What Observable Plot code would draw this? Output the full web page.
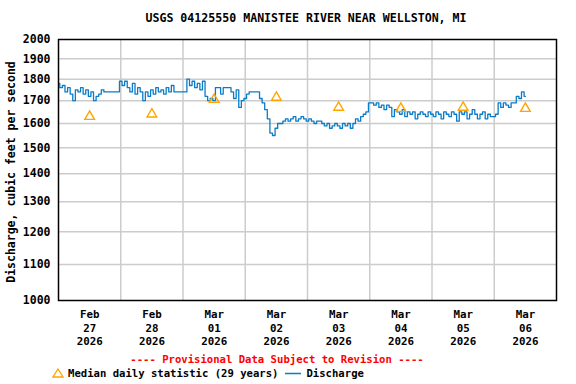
<!DOCTYPE html>
<html>
<head>
<meta charset="utf-8">
<script src="https://cdn.jsdelivr.net/npm/d3@7"></script>
<script src="https://cdn.jsdelivr.net/npm/@observablehq/plot@0.6"></script>
<style>
  html, body { margin: 0; padding: 0; background: #fff; }
  #wrap { position: relative; width: 576px; height: 384px; font-family: "DejaVu Sans Mono", monospace; font-weight: bold; }
  #wrap svg { position: absolute; left: 0; top: 0; }
  .ov { position: absolute; white-space: nowrap; line-height: 1; }
</style>
</head>
<body>
<div id="wrap">
  <div class="ov" id="title" style="left:306px; top:19px; transform:translate(-50%,-50%); font-size:11.6px;">USGS 04125550 MANISTEE RIVER NEAR WELLSTON, MI</div>
  <div class="ov" id="ylabel" style="left:12px; top:172px; transform:translate(-50%,-50%) rotate(-90deg); font-size:11.5px;">Discharge, cubic feet per second</div>
  <div class="ov" id="prov" style="left:277px; top:359px; transform:translate(-50%,-50%); font-size:10.6px; color:#ff0000;">---- Provisional Data Subject to Revision ----</div>
  <div class="ov" id="legend" style="left:52px; top:373px; transform:translate(0,-50%); font-size:10.6px; display:flex; align-items:center;">
    <svg width="12" height="11" style="position:static"><path d="M6,1.5 L11,9.5 L1,9.5 Z" fill="none" stroke="#ffa500" stroke-width="1.3"/></svg>
    <span style="margin-left:4px;">Median daily statistic (29 years)</span>
    <svg width="18" height="6" style="position:static; margin-left:6px;"><line x1="1" y1="3" x2="17" y2="3" stroke="#0a7cc8" stroke-width="1.3"/></svg>
    <span style="margin-left:4px;">Discharge</span>
  </div>
</div>
<script>
// Hourly discharge (cfs), starting 2026-02-27 00:00
const dischargeStart = Date.UTC(2026, 1, 27, 0);
const dischargeFeb27 = [1780,1760,1770,1740,1760,1730,1700,1750,1740,1760,1730,1750,1720,1740,1700,1720,1730,1750,1740,1740,1740,1740,1740,1740];
const dischargeFeb28 = [1790,1770,1790,1760,1740,1780,1730,1760,1740,1700,1740,1720,1750,1730,1760,1740,1750,1730,1760,1740,1770,1740,1740,1740];
const dischargeMar01 = [1740,1740,1800,1770,1790,1760,1780,1750,1790,1720,1700,1710,1700,1760,1760,1730,1760,1760,1760,1740,1710,1750,1670,1700];
const dischargeMar02 = [1710,1730,1740,1740,1740,1740,1710,1690,1660,1620,1560,1550,1580,1600,1600,1610,1620,1610,1620,1630,1610,1620,1630,1620];
const dischargeMar03 = [1610,1620,1610,1600,1610,1610,1600,1590,1600,1580,1590,1600,1590,1580,1600,1590,1600,1580,1600,1620,1610,1630,1640,1650];
const dischargeMar04 = [1690,1690,1680,1690,1670,1680,1660,1680,1670,1630,1660,1650,1640,1660,1630,1650,1640,1650,1620,1640,1650,1640,1630,1650];
const dischargeMar05 = [1640,1630,1650,1640,1620,1650,1640,1630,1650,1640,1610,1650,1640,1650,1620,1640,1660,1640,1620,1640,1650,1620,1640,1630];
const dischargeMar06 = [1630,1640,1690,1670,1690,1680,1670,1690,1690,1720,1710,1740,1720];
const discharge = [].concat(dischargeFeb27, dischargeFeb28, dischargeMar01, dischargeMar02,
  dischargeMar03, dischargeMar04, dischargeMar05, dischargeMar06);

// Median daily statistic (29 years), at noon of each day
const medianDays = ["2026-02-27","2026-02-28","2026-03-01","2026-03-02","2026-03-03","2026-03-04","2026-03-05","2026-03-06"];
const medianValues = [1630, 1640, 1705, 1715, 1670, 1665, 1670, 1665];

// Axis labels
const dayMonths = ["Feb","Feb","Mar","Mar","Mar","Mar","Mar","Mar"];
const dayNumbers = ["27","28","01","02","03","04","05","06"];
const yTicks = [1000,1100,1200,1300,1400,1500,1600,1700,1800,1900,2000];

const xStart = new Date(Date.UTC(2026, 1, 27));
const xEnd = new Date(Date.UTC(2026, 2, 7));

const data = discharge.map((v, i) => ({date: new Date(dischargeStart + i * 3600e3), value: v}));
const medians = medianDays.map((d, i) => ({date: new Date(d + "T12:00:00Z"), value: medianValues[i]}));
const dayLabels = medianDays.map((d, i) => ({date: new Date(d + "T12:00:00Z"), text: dayMonths[i] + "\n" + dayNumbers[i] + "\n" + d.slice(0, 4)}));
const midnights = medianDays.slice(1).map(d => new Date(d + "T00:00:00Z"));

const chart = Plot.plot({
  width: 576,
  height: 384,
  marginTop: 39,
  marginBottom: 84,
  marginLeft: 58,
  marginRight: 20,
  style: {fontFamily: '"DejaVu Sans Mono", monospace', fontWeight: "bold", fontSize: "11.5px", color: "black", background: "transparent"},
  x: {type: "utc", domain: [xStart, xEnd], axis: null},
  y: {type: "log", domain: [1000, 2000], axis: null},
  marks: [
    Plot.ruleY(yTicks.slice(1, -1), {stroke: "#cccccc", strokeWidth: 1.5}),
    Plot.ruleX(midnights, {stroke: "#cccccc", strokeWidth: 1.5}),
    Plot.line(data, {x: "date", y: "value", stroke: "#0a7cc8", strokeWidth: 1.3, curve: "step"}),
    Plot.dot(medians, {x: "date", y: "value", symbol: "triangle", r: 3.6, stroke: "#ffa500", strokeWidth: 1.4, fill: "none"}),
    Plot.axisY({ticks: yTicks, tickFormat: d => String(d), tickSize: 0, tickPadding: 8, label: null, fontWeight: "bold"}),
    Plot.text(dayLabels, {x: "date", text: "text", frameAnchor: "bottom", lineAnchor: "middle", dy: 27, lineHeight: 1.25, fontSize: 10.8, fontWeight: "bold"}),
    Plot.frame({stroke: "black", strokeWidth: 1.5})
  ]
});
document.getElementById("wrap").prepend(chart);
</script>
</body>
</html>
